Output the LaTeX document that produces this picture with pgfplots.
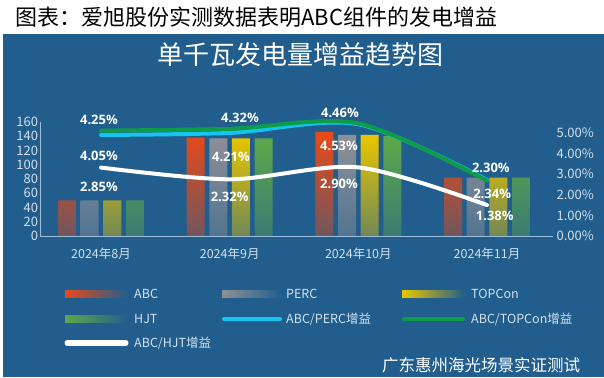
\documentclass[border=0pt]{standalone}
\usepackage{pgfplots}
\pgfplotsset{compat=1.18}
\usepackage{fontspec}
\setmainfont{Noto Sans CJK SC}
\newfontfamily\labfont{Open Sans}
\definecolor{bg}{RGB}{33,94,142}
\definecolor{abc}{RGB}{232,74,24}
\definecolor{perc}{RGB}{142,144,150}
\definecolor{topcon}{RGB}{234,198,0}
\definecolor{hjt}{RGB}{94,168,74}
\definecolor{cyanl}{RGB}{22,196,240}
\definecolor{greenl}{RGB}{14,156,72}
\definecolor{tickc}{RGB}{212,224,236}
\definecolor{axisc}{RGB}{160,188,212}
\begin{document}
\begin{tikzpicture}[x=1pt,y=1pt]
\useasboundingbox (0,0) rectangle (604,377);
\fill[white] (0,0) rectangle (604,377);
\fill[bg] (3,0) rectangle (604,343);
\node[anchor=west, font=\fontsize{22}{24}\selectfont, text=black, inner sep=0] at (15,360) {图表：爱旭股份实测数据表明ABC组件的发电增益};
\node[font=\fontsize{26}{28}\selectfont, text=white, inner sep=0] at (300,322) {单千瓦发电量增益趋势图};

\begin{axis}[at={(40pt,141pt)}, anchor=south west, width=513pt, height=114pt, scale only axis,
  xmin=-0.474, xmax=3.513, ymin=0, ymax=160,
  axis x line*=bottom, axis y line*=left,
  axis line style={draw=axisc, line width=0.8pt, -},
  xtick={0,1,2,3}, xticklabels={2024年8月,2024年9月,2024年10月,2024年11月},
  ytick={0,20,...,160}, major tick length=0pt,
  tick label style={text=tickc, font=\fontsize{13}{13}\selectfont},
  xticklabel style={yshift=-8pt, font=\fontsize{12.5}{12.5}\selectfont},
  yticklabel style={xshift=1.5pt},
  /pgf/number format/assume math mode=true,
  clip=false]
\addplot[ybar, bar width=18pt, bar shift=-34pt, draw=none, top color=abc, bottom color=abc!40!bg] coordinates {(0,50) (1,138) (2,146) (3,82)};
\addplot[ybar, bar width=18pt, bar shift=-11.3pt, draw=none, top color=perc, bottom color=perc!45!bg] coordinates {(0,50) (1,137) (2,142) (3,82)};
\addplot[ybar, bar width=18pt, bar shift=11.3pt, draw=none, top color=topcon, bottom color=topcon!40!bg] coordinates {(0,50) (1,137) (2,142) (3,82)};
\addplot[ybar, bar width=18pt, bar shift=34pt, draw=none, top color=hjt, bottom color=hjt!40!bg] coordinates {(0,50) (1,137) (2,140) (3,82)};
\end{axis}

\begin{axis}[at={(40pt,141pt)}, anchor=south west, width=513pt, height=114pt, scale only axis,
  xmin=-0.474, xmax=3.513, ymin=0, ymax=5.53,
  axis x line=none, axis y line*=right, y axis line style={draw=none},
  ytick={0,1,2,3,4,5}, major tick length=0pt,
  /pgf/number format/assume math mode=true,
  yticklabel={\pgfmathprintnumber[fixed,fixed zerofill,precision=2]{\tick}\%},
  yticklabel style={text=tickc, font=\fontsize{13}{13}\selectfont, xshift=0pt},
  clip=false]
\addplot[smooth, line width=4pt, color=cyanl, line cap=round] coordinates {(0,4.9) (1,5.0) (2,5.42) (3,2.72)};
\addplot[smooth, line width=4pt, color=greenl, line cap=round] coordinates {(0,5.11) (1,5.2) (2,5.46) (3,2.68)};
\addplot[smooth, line width=4pt, color=white, line cap=round] coordinates {(0,3.32) (1,2.75) (2,3.33) (3,1.5)};
\tikzset{lab/.style={text=white, inner sep=0, font=\labfont\bfseries\fontsize{13}{13}\selectfont}}
\node[lab] at (axis cs:-0.016,5.63) {4.25\%};
\node[lab] at (axis cs:-0.016,3.90) {4.05\%};
\node[lab] at (axis cs:-0.016,2.39) {2.85\%};
\node[lab] at (axis cs:1.08,5.71) {4.32\%};
\node[lab] at (axis cs:1.01,3.85) {4.21\%};
\node[lab] at (axis cs:1.0,1.88) {2.32\%};
\node[lab] at (axis cs:1.857,5.99) {4.46\%};
\node[lab] at (axis cs:1.85,4.37) {4.53\%};
\node[lab] at (axis cs:1.85,2.54) {2.90\%};
\node[lab] at (axis cs:3.03,3.32) {2.30\%};
\node[lab] at (axis cs:3.04,2.02) {2.34\%};
\node[lab] at (axis cs:3.06,0.97) {1.38\%};
\end{axis}

% legend
\shade[left color=abc, right color=bg] (65,79.5) rectangle (128,86.5);
\shade[left color=perc, right color=bg] (222,79.5) rectangle (282,86.5);
\shade[left color=topcon, right color=bg] (402,79.5) rectangle (465,86.5);
\shade[left color=hjt, right color=bg] (65,54.5) rectangle (128,61.5);
\draw[cyanl, line width=4pt, line cap=round] (224,58) -- (280,58);
\draw[greenl, line width=4pt, line cap=round] (404,58) -- (463,58);
\draw[white, line width=5pt, line cap=round] (67,34) -- (126,34);
\tikzset{leg/.style={anchor=west, text=tickc, inner sep=0, font=\fontsize{12.5}{12.5}\selectfont}}
\node[leg] at (134,83) {ABC};
\node[leg] at (286,83) {PERC};
\node[leg] at (471,83) {TOPCon};
\node[leg] at (134,58) {HJT};
\node[leg] at (286,58) {ABC/PERC增益};
\node[leg] at (471,58) {ABC/TOPCon增益};
\node[leg] at (134,34) {ABC/HJT增益};
\node[text=white, font=\fontsize{16.5}{17}\selectfont, inner sep=0] at (481,12) {广东惠州海光场景实证测试};
\end{tikzpicture}
\end{document}
